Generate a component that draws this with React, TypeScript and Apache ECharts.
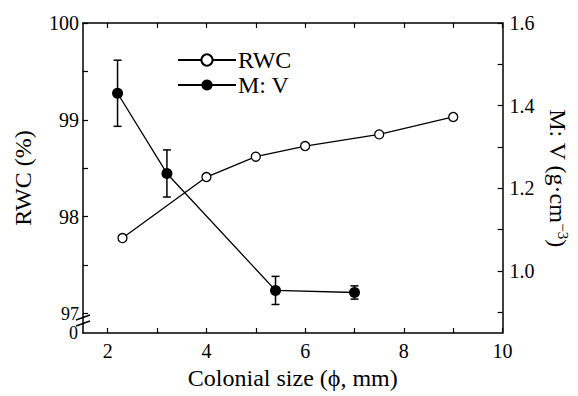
import React, { useEffect, useRef } from "react";
import * as echarts from "echarts";

// RWC series (open circles)
const rwcSize = [2.3, 4, 5, 6, 7.5, 9];
const rwcValue = [97.78, 98.41, 98.62, 98.73, 98.85, 99.03];

// M:V series (filled circles) with error bars
const mvSize = [2.2, 3.2, 5.4, 7.0];
const mvValue = [1.43, 1.236, 0.953, 0.948];
const mvErr = [0.08, 0.057, 0.034, 0.016];

// tick positions / labels
const xTicks = [2, 3, 4, 5, 6, 7, 8, 9, 10];
const xLabels = [2, 4, 6, 8, 10];
const leftTicks = [97, 97.5, 98, 98.5, 99, 99.5, 100];
const leftLabels = [97, 98, 99, 100];
const leftBreakLabel = [96.8]; // shown as "0" below the axis break
const rightTicks = [0.9, 1.0, 1.1, 1.2, 1.3, 1.4, 1.5, 1.6];
const rightLabels = [1.0, 1.2, 1.4, 1.6];

const FONT = "Liberation Serif";

export default function App() {
  const ref = useRef<HTMLDivElement>(null);
  useEffect(() => {
    if (!ref.current) return;
    const chart = echarts.init(ref.current, null, { renderer: "svg" });
    const axisLine = { show: true, lineStyle: { color: "#000", width: 1.5 } };
    const tickStyle = { color: "#000", width: 1.2 };
    const option: any = {
      animation: false,
      backgroundColor: "#fff",
      textStyle: { fontFamily: FONT, color: "#000" },
      grid: { left: 83, right: 74, top: 23, bottom: 63, containLabel: false },
      legend: {
        orient: "vertical",
        left: 172,
        top: 43,
        itemWidth: 58,
        itemHeight: 14,
        itemGap: 1,
        textStyle: { fontFamily: FONT, fontSize: 24, color: "#000", padding: [0, 0, 0, -3] },
        data: ["RWC", "M: V"],
      },
      xAxis: [
        {
          type: "value",
          min: 1.5,
          max: 10,
          position: "bottom",
          name: "Colonial size (\u03d5, mm)",
          nameLocation: "middle",
          nameGap: 30,
          nameTextStyle: { fontFamily: FONT, fontSize: 24, color: "#000" },
          axisLine,
          axisTick: { show: true, inside: true, length: 5, lineStyle: tickStyle, customValues: xTicks },
          axisLabel: { customValues: xLabels, fontFamily: FONT, fontSize: 20, color: "#000", margin: 8 },
          splitLine: { show: false },
        },
        {
          type: "value",
          min: 1.5,
          max: 10,
          position: "top",
          axisLine,
          axisTick: { show: true, inside: true, length: 5, lineStyle: tickStyle, customValues: xTicks },
          axisLabel: { show: false },
          splitLine: { show: false },
        },
      ],
      yAxis: [
        {
          type: "value",
          min: 96.8,
          max: 100,
          position: "left",
          name: "RWC (%)",
          nameLocation: "middle",
          nameGap: 48,
          nameTextStyle: { fontFamily: FONT, fontSize: 24, color: "#000" },
          axisLine,
          axisTick: { show: true, inside: true, length: 5, lineStyle: tickStyle, customValues: leftTicks },
          axisLabel: {
            customValues: leftLabels,
            fontFamily: FONT,
            fontSize: 20,
            color: "#000",
            margin: 4,
            formatter: (v: number) => {
              const s = String(Math.round(v));
              return Math.round(v) === 97 ? "{s|" + s + "}" : s;
            },
            rich: { s: { fontFamily: FONT, fontSize: 18, lineHeight: 18, color: "#000" } },
          },
          splitLine: { show: false },
        },
        {
          type: "value",
          min: 0.85,
          max: 1.6,
          position: "right",
          name: "M: V (g\u00b7cm{sup|\u22123})",
          nameLocation: "middle",
          nameRotate: -90,
          nameGap: 37,
          nameTextStyle: {
            fontFamily: FONT,
            fontSize: 24,
            color: "#000",
            rich: { sup: { fontFamily: FONT, fontSize: 15, color: "#000", verticalAlign: "top", padding: [0, 0, 10, 0] } },
          },
          axisLine,
          axisTick: { show: true, inside: true, length: 5, lineStyle: tickStyle, customValues: rightTicks },
          axisLabel: {
            customValues: rightLabels,
            fontFamily: FONT,
            fontSize: 20,
            color: "#000",
            margin: 7,
            formatter: (v: number) => v.toFixed(1),
          },
          splitLine: { show: false },
        },
        {
          type: "value",
          min: 96.8,
          max: 100,
          position: "left",
          axisLine: { show: false },
          axisTick: { show: false },
          axisLabel: {
            customValues: leftBreakLabel,
            showMinLabel: true,
            fontFamily: FONT,
            fontSize: 18,
            lineHeight: 18,
            color: "#000",
            margin: 5,
            formatter: () => "0",
          },
          splitLine: { show: false },
        },
      ],
      graphic: [
        { type: "line", shape: { x1: 76, y1: 320, x2: 90, y2: 315 }, style: { stroke: "#000", lineWidth: 1.5 } },
        { type: "line", shape: { x1: 76, y1: 326, x2: 90, y2: 321 }, style: { stroke: "#000", lineWidth: 1.5 } },
      ],
      series: [
        {
          name: "RWC",
          type: "line",
          xAxisIndex: 0,
          yAxisIndex: 0,
          data: rwcSize.map((x, i) => [x, rwcValue[i]]),
          symbol: "circle",
          symbolSize: 9,
          itemStyle: { color: "#fff", borderColor: "#000", borderWidth: 1.3 },
          lineStyle: { color: "#000", width: 1.3 },
          z: 3,
        },
        {
          name: "M: V",
          type: "line",
          xAxisIndex: 0,
          yAxisIndex: 1,
          data: mvSize.map((x, i) => [x, mvValue[i]]),
          symbol: "circle",
          symbolSize: 11,
          itemStyle: { color: "#000", borderColor: "#000", borderWidth: 0 },
          lineStyle: { color: "#000", width: 1.3 },
          z: 4,
        },
        {
          name: "err",
          type: "custom",
          xAxisIndex: 0,
          yAxisIndex: 1,
          data: mvSize.map((x, i) => [x, mvValue[i] - mvErr[i], mvValue[i] + mvErr[i]]),
          encode: { x: 0, y: [1, 2] },
          renderItem: (params: any, api: any) => {
            const x = api.value(0);
            const lo = api.coord([x, api.value(1)]);
            const hi = api.coord([x, api.value(2)]);
            const w = 4;
            const st = { stroke: "#000", lineWidth: 1.5 };
            return {
              type: "group",
              children: [
                { type: "line", shape: { x1: lo[0], y1: lo[1], x2: hi[0], y2: hi[1] }, style: st },
                { type: "line", shape: { x1: lo[0] - w, y1: lo[1], x2: lo[0] + w, y2: lo[1] }, style: st },
                { type: "line", shape: { x1: hi[0] - w, y1: hi[1], x2: hi[0] + w, y2: hi[1] }, style: st },
              ],
            };
          },
          z: 2,
        },
      ],
    };
    chart.setOption(option);
    return () => chart.dispose();
  }, []);
  return (
    <div
      ref={ref}
      style={{ position: "absolute", left: 0, top: 0, width: 578, height: 396, background: "#fff" }}
    />
  );
}
